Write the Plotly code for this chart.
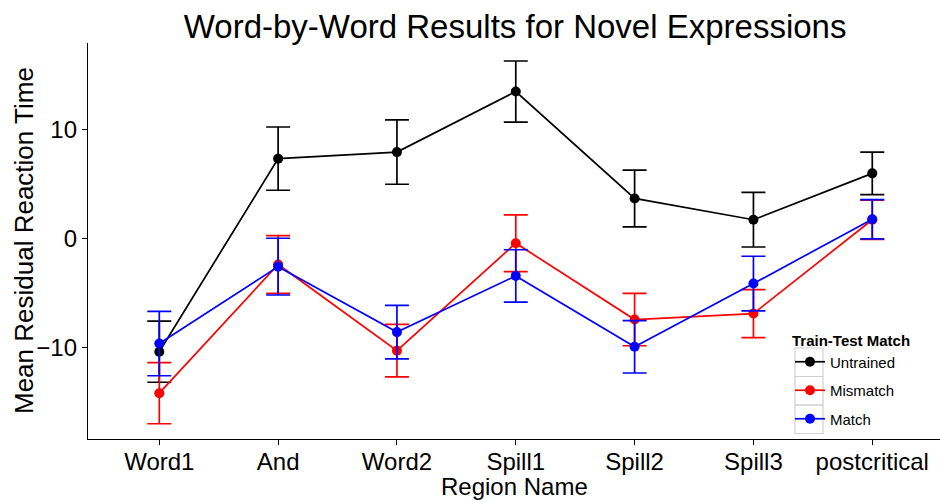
import plotly.graph_objects as go

# Regions of the sentence, in reading order
regions = ["Word1", "And", "Word2", "Spill1", "Spill2", "Spill3", "postcritical"]

# Mean residual reaction times and standard errors per condition
untrained_mean = [-10.4, 7.3, 7.9, 13.45, 3.65, 1.7, 5.95]
untrained_se = [2.8, 2.9, 2.95, 2.8, 2.6, 2.5, 1.95]

mismatch_mean = [-14.2, -2.4, -10.3, -0.45, -7.45, -6.9, 1.7]
mismatch_se = [2.8, 2.65, 2.4, 2.6, 2.4, 2.2, 1.8]

match_mean = [-9.65, -2.6, -8.6, -3.45, -9.95, -4.15, 1.75]
match_se = [2.95, 2.6, 2.45, 2.4, 2.4, 2.5, 1.8]

series = [
    ("Untrained", untrained_mean, untrained_se, "black"),
    ("Mismatch", mismatch_mean, mismatch_se, "#ff0000"),
    ("Match", match_mean, match_se, "#0000ff"),
]

FONT = "Liberation Sans, Arial, Helvetica, sans-serif"

# plot area in pixels (used to place legend frames and axis titles)
W, H = 940, 502
ML, MR, MT, MB = 88, 0, 43, 63
PW, PH = W - ML - MR, H - MT - MB


def px_to_paper(px, py):
    return (px - ML) / PW, (H - MB - py) / PH


fig = go.Figure()
for name, mean, se, color in series:
    fig.add_trace(go.Scatter(
        x=list(range(len(regions))),
        y=mean,
        name=name,
        legendgroup=name,
        mode="lines+markers",
        line=dict(color=color, width=1.7),
        marker=dict(color=color, size=10),
        error_y=dict(type="data", array=se, visible=True,
                     color=color, thickness=1.7, width=12),
    ))

# light grey frames around each legend key
key_left, key_right = 795, 823
key_rows = [348, 376.5, 405, 433.5]
shapes = []
for top, bottom in zip(key_rows[:-1], key_rows[1:]):
    x0, y0 = px_to_paper(key_left, bottom)
    x1, y1 = px_to_paper(key_right, top)
    shapes.append(dict(type="rect", xref="paper", yref="paper",
                       x0=x0, y0=y0, x1=x1, y1=y1,
                       line=dict(color="#d0d0d0", width=1.2),
                       fillcolor="rgba(0,0,0,0)", layer="below"))

# axis titles, placed as annotations
annotations = [
    dict(text="Region Name", xref="paper", yref="paper",
         x=0.5, y=px_to_paper(0, 487)[1], xanchor="center", yanchor="middle",
         showarrow=False, font=dict(size=24, color="black")),
    dict(text="Mean Residual Reaction Time", xref="paper", yref="paper",
         x=px_to_paper(24, 0)[0], y=px_to_paper(0, 241)[1],
         xanchor="center", yanchor="middle", textangle=-90,
         showarrow=False, font=dict(size=26, color="black")),
]

fig.update_layout(
    width=W, height=H,
    margin=dict(l=ML, r=MR, t=MT, b=MB),
    paper_bgcolor="white",
    plot_bgcolor="white",
    font=dict(family=FONT, color="black"),
    title=dict(text="Word-by-Word Results for Novel Expressions",
               x=0.548, xanchor="center", y=0.948, yanchor="middle",
               font=dict(size=33, color="black")),
    xaxis=dict(
        range=[-0.6, 6.57],
        tickmode="array",
        tickvals=list(range(len(regions))),
        ticktext=regions,
        showgrid=False, zeroline=False,
        showline=True, linecolor="black", linewidth=1.3,
        ticks="outside", ticklen=5, tickcolor="black", tickwidth=1.1,
        tickfont=dict(size=24, color="black"),
        ticklabelstandoff=-4,
    ),
    yaxis=dict(
        range=[-18.4, 17.9],
        tickvals=[-10, 0, 10],
        showgrid=False, zeroline=False,
        showline=True, linecolor="black", linewidth=1.3,
        ticks="outside", ticklen=5, tickcolor="black", tickwidth=1.1,
        tickfont=dict(size=24, color="black"),
    ),
    legend=dict(
        title=dict(text="<b>Train-Test Match</b>", font=dict(size=15)),
        font=dict(size=15, color="black"),
        x=px_to_paper(790, 0)[0], y=px_to_paper(0, 326)[1],
        xanchor="left", yanchor="top",
        bgcolor="rgba(0,0,0,0)",
        tracegroupgap=6,
    ),
    shapes=shapes,
    annotations=annotations,
    showlegend=True,
)

fig.write_html("out.html")
